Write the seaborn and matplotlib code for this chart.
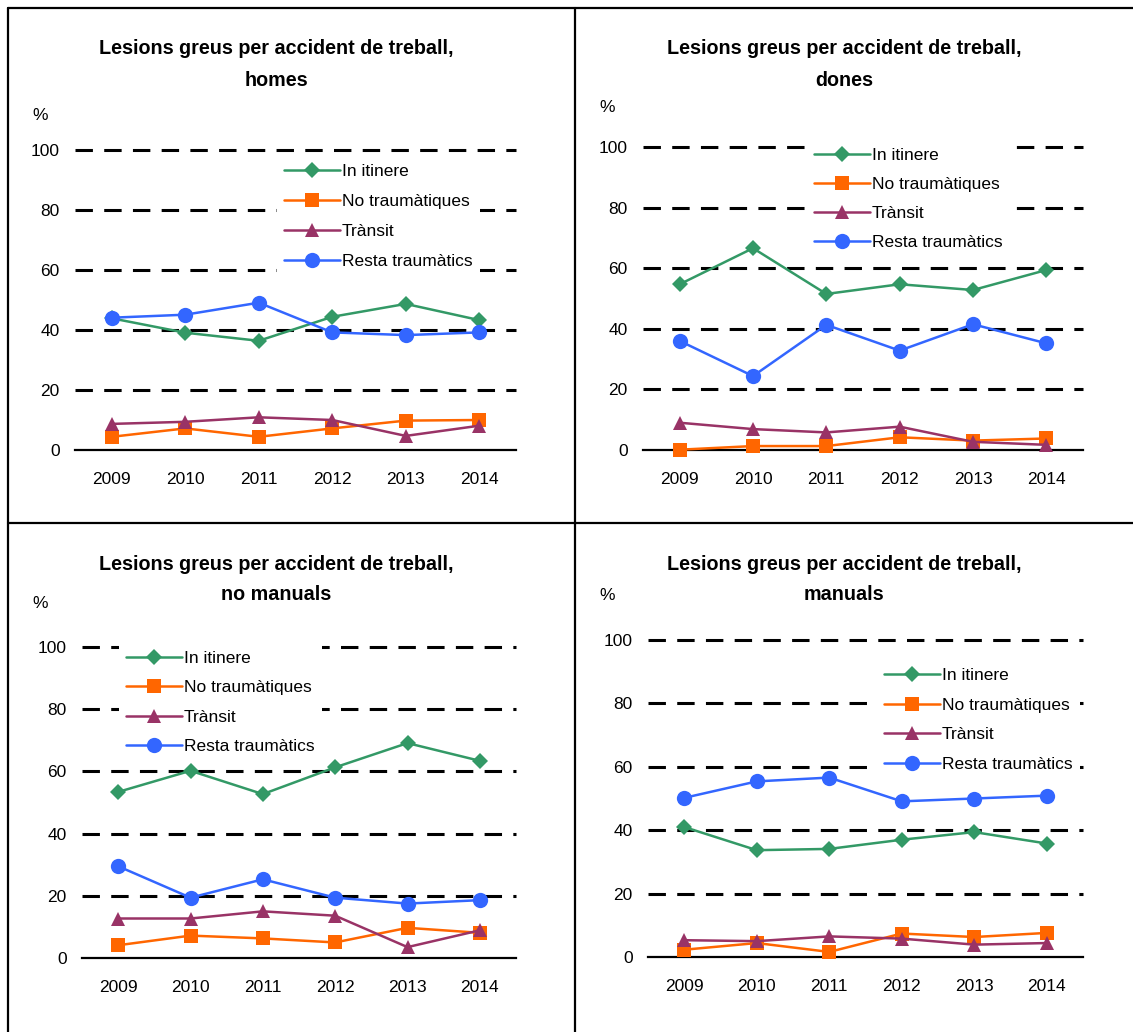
import matplotlib
matplotlib.use("Agg")
import matplotlib.pyplot as plt
from matplotlib import font_manager
import seaborn as sns

# --- data ---
years = [2009, 2010, 2011, 2012, 2013, 2014]
series_names = ["In itinere", "No traumàtiques", "Trànsit", "Resta traumàtics"]

homes_itinere = [43.9, 39.1, 36.4, 44.4, 48.7, 43.3]
homes_no_traum = [4.4, 7.2, 4.4, 7.2, 9.8, 10.0]
homes_transit = [8.7, 9.4, 10.9, 10.0, 4.7, 8.1]
homes_resta = [44.1, 45.1, 49.1, 39.2, 38.3, 39.2]

dones_itinere = [54.7, 66.6, 51.5, 54.7, 52.8, 59.4]
dones_no_traum = [0.1, 1.3, 1.3, 4.2, 3.1, 3.8]
dones_transit = [9.0, 6.9, 5.8, 7.7, 2.7, 1.7]
dones_resta = [36.0, 24.4, 41.3, 32.8, 41.5, 35.2]

nomanuals_itinere = [53.4, 60.2, 52.7, 61.3, 69.1, 63.4]
nomanuals_no_traum = [4.1, 7.2, 6.3, 5.0, 9.7, 8.1]
nomanuals_transit = [12.7, 12.7, 15.0, 13.6, 3.5, 8.9]
nomanuals_resta = [29.5, 19.4, 25.3, 19.4, 17.5, 18.6]

manuals_itinere = [41.0, 33.7, 34.1, 37.0, 39.4, 35.8]
manuals_no_traum = [2.3, 4.4, 1.6, 7.4, 6.3, 7.6]
manuals_transit = [5.3, 5.0, 6.5, 5.8, 3.9, 4.4]
manuals_resta = [50.2, 55.4, 56.6, 49.1, 50.0, 50.9]

y_ticks = [0, 20, 40, 60, 80, 100]
title_line1 = "Lesions greus per accident de treball,"
subtitles = ["homes", "dones", "no manuals", "manuals"]

# --- styling ---
colors = ["#339966", "#FF6600", "#993366", "#3366FF"]
markers = ["D", "s", "^", "o"]
msizes = [8, 10.5, 10.5, 11]

W, H = 1133, 1032
sns.set_style("white")
names = {f.name for f in font_manager.fontManager.ttflist}
if "Liberation Sans Narrow" in names:
    txt_font, txt_size = "Liberation Sans Narrow", 14
else:
    txt_font, txt_size = "Liberation Sans", 12.5
plt.rcParams["font.family"] = [txt_font, "DejaVu Sans"]
plt.rcParams["text.color"] = "black"
plt.rcParams["xtick.color"] = "black"
plt.rcParams["ytick.color"] = "black"


def fx(x):
    return x / W


def fy(y):
    return 1 - y / H


fig = plt.figure(figsize=(W / 100, H / 100), dpi=100)

panels = [
    # axes box (left, right, top, bottom) px, title x, title y, % pos, legend anchor
    dict(box=(75, 516, 150, 450), tx=276, ty=(48, 81), pct=(40, 115), leg=(277, 157), ls=0.85,
         data=[homes_itinere, homes_no_traum, homes_transit, homes_resta]),
    dict(box=(643, 1083, 147, 450), tx=844, ty=(48, 81), pct=(607, 108), leg=(807, 141), ls=0.8,
         data=[dones_itinere, dones_no_traum, dones_transit, dones_resta]),
    dict(box=(82, 516, 647, 958), tx=276, ty=(564, 595), pct=(40, 604), leg=(119, 644), ls=0.82,
         data=[nomanuals_itinere, nomanuals_no_traum, nomanuals_transit, nomanuals_resta]),
    dict(box=(648, 1083, 640, 957), tx=844, ty=(564, 595), pct=(607, 595), leg=(877, 661), ls=0.83,
         data=[manuals_itinere, manuals_no_traum, manuals_transit, manuals_resta]),
]

for i, p in enumerate(panels):
    l, r, t, b = p["box"]
    ax = fig.add_axes([fx(l), fy(b), (r - l) / W, (b - t) / H])
    ax.set_xlim(2008.5, 2014.5)
    ax.set_ylim(0, 100)

    for v in y_ticks[1:]:
        ax.axhline(v, color="black", lw=2.2, ls=(0, (5.7, 3.7)), zorder=1, clip_on=False)

    for vals, name, c, m, ms in zip(p["data"], series_names, colors, markers, msizes):
        sns.lineplot(x=years, y=vals, ax=ax, color=c, marker=m, markersize=ms,
                     markeredgewidth=0, linewidth=1.8, label=name, clip_on=False, zorder=3)

    for s in ["top", "right", "left"]:
        ax.spines[s].set_visible(False)
    ax.spines["bottom"].set_linewidth(1.6)
    ax.spines["bottom"].set_color("black")

    ax.set_yticks(y_ticks)
    ax.tick_params(axis="y", length=0, pad=11, labelsize=txt_size)
    ax.set_xticks(years)
    ax.set_xticks([y - 0.5 for y in years] + [2014.5], minor=True)
    ax.tick_params(axis="x", which="major", length=0, pad=16, labelsize=txt_size)
    ax.tick_params(axis="x", which="minor", length=5, width=1.6, direction="out", color="black")
    ax.set_xlabel("")
    ax.set_ylabel("")

    leg = ax.legend(loc="upper left", bbox_to_anchor=(fx(p["leg"][0]), fy(p["leg"][1])),
                    bbox_transform=fig.transFigure, frameon=True, fancybox=False,
                    facecolor="white", edgecolor="none", framealpha=1,
                    fontsize=txt_size, handlelength=3.2, handletextpad=0.15,
                    labelspacing=p["ls"], borderpad=0.4, borderaxespad=0)
    leg.set_zorder(5)

    fig.text(fx(p["tx"]), fy(p["ty"][0]), title_line1, ha="center", va="center",
             fontsize=14.2, fontweight="bold", family=["Liberation Sans", "DejaVu Sans"])
    fig.text(fx(p["tx"]), fy(p["ty"][1]), subtitles[i], ha="center", va="center",
             fontsize=14.2, fontweight="bold", family=["Liberation Sans", "DejaVu Sans"])
    fig.text(fx(p["pct"][0]), fy(p["pct"][1]), "%", ha="center", va="center", fontsize=txt_size)

# panel frame lines
lw = 1.6
fig.add_artist(plt.Line2D([fx(8), 1], [fy(8), fy(8)], color="black", lw=lw))
fig.add_artist(plt.Line2D([fx(8), fx(8)], [fy(8), 0], color="black", lw=lw))
fig.add_artist(plt.Line2D([fx(575), fx(575)], [fy(8), 0], color="black", lw=lw))
fig.add_artist(plt.Line2D([fx(8), 1], [fy(523), fy(523)], color="black", lw=lw))

fig.savefig("out.png", dpi=100)
